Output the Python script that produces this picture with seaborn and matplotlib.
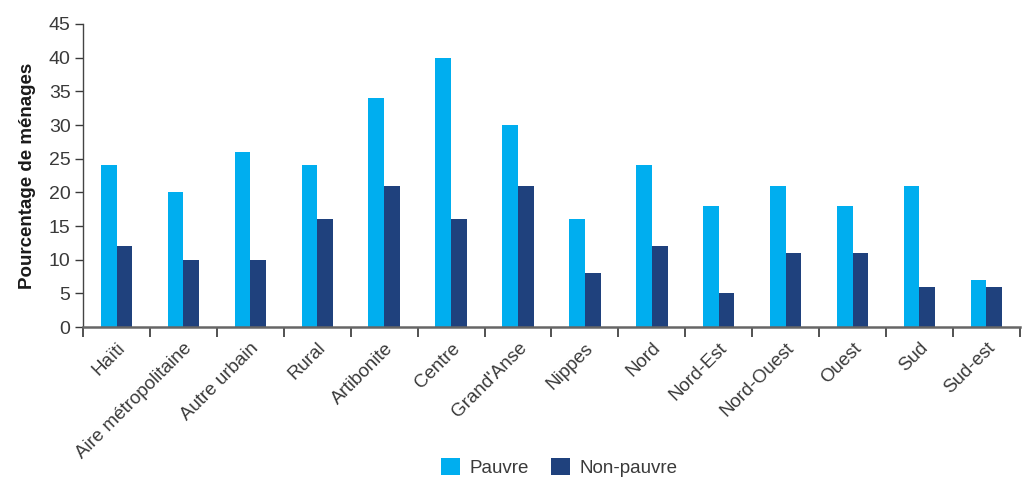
import matplotlib
matplotlib.use("Agg")
import matplotlib.pyplot as plt
import seaborn as sns
import pandas as pd
import numpy as np
from matplotlib.ticker import FixedLocator
from matplotlib.patches import Patch

categories = ["Haïti", "Aire métropolitaine", "Autre urbain", "Rural", "Artibonite",
              "Centre", "Grand'Anse", "Nippes", "Nord", "Nord-Est", "Nord-Ouest",
              "Ouest", "Sud", "Sud-est"]
pauvre = [24, 20, 26, 24, 34, 40, 30, 16, 24, 18, 21, 18, 21, 7]
non_pauvre = [12, 10, 10, 16, 21, 16, 21, 8, 12, 5, 11, 11, 6, 6]
series_names = ["Pauvre", "Non-pauvre"]
colors = ["#00AEEF", "#1F417D"]

df = pd.DataFrame({
    "cat": categories * 2,
    "val": pauvre + non_pauvre,
    "serie": [series_names[0]] * len(categories) + [series_names[1]] * len(categories),
})

sns.set_theme(style="white")
plt.rcParams["font.family"] = ["Liberation Sans", "DejaVu Sans"]
text_color = "#3a3a3a"

fig = plt.figure(figsize=(10.26, 4.79), dpi=100)
ax = fig.add_axes([0.081, 0.317, 0.913, 0.633])

sns.barplot(data=df, x="cat", y="val", hue="serie", palette=colors, width=0.47,
            saturation=1, ax=ax, legend=False, linewidth=0, edgecolor="none")

ax.set_xlim(-0.5, len(categories) - 0.5)
ax.set_ylim(0, 45)
ax.set_yticks(np.arange(0, 46, 5))
ax.tick_params(axis="y", labelsize=14, colors=text_color, length=6, width=1,
               direction="out", left=True, pad=3)
for t in ax.get_yticklabels():
    t.set_color(text_color)

ax.set_xticks(range(len(categories)))
ax.set_xticklabels(categories, rotation=45, ha="right", rotation_mode="anchor",
                   fontsize=13.5, color=text_color)
ax.tick_params(axis="x", which="major", length=0, pad=9)
ax.xaxis.set_minor_locator(FixedLocator(np.arange(-0.5, len(categories), 1.0)))
ax.tick_params(axis="x", which="minor", length=7, width=1.2, color="#333333",
               direction="out", bottom=True)

ax.set_xlabel("")
ax.set_ylabel("Pourcentage de ménages", fontsize=13.5, fontweight="bold",
              color="#1a1a1a", labelpad=9)

for s in ["top", "right"]:
    ax.spines[s].set_visible(False)
ax.spines["left"].set_color("#444444")
ax.spines["left"].set_linewidth(1.0)
ax.spines["bottom"].set_color("#666666")
ax.spines["bottom"].set_linewidth(1.8)

handles = [Patch(facecolor=c, edgecolor="none", label=n) for c, n in zip(colors, series_names)]
fig.legend(handles=handles, loc="lower center", bbox_to_anchor=(0.545, 0.0),
           ncol=2, frameon=False, fontsize=13.5, handlelength=1.0, handleheight=1.0,
           handletextpad=0.5, columnspacing=1.2, labelcolor=text_color,
           borderaxespad=0.0, borderpad=0.1)

fig.savefig("out.png", dpi=100)
